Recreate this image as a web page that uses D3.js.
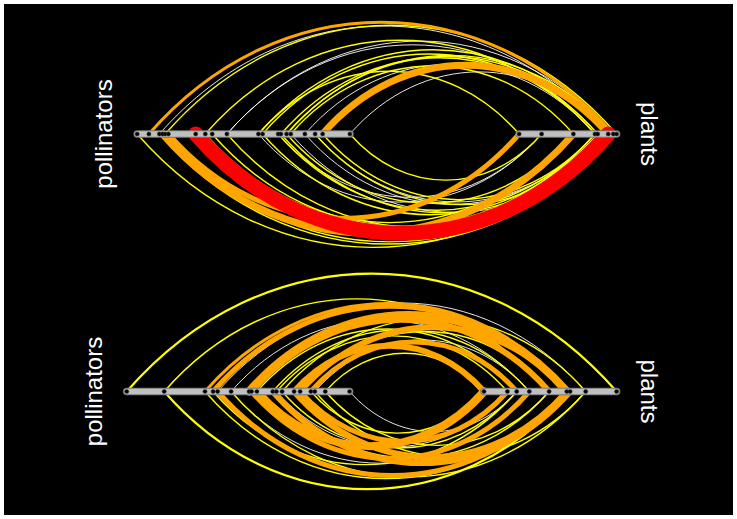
<!DOCTYPE html>
<html>
<head>
<meta charset="utf-8">
<script src="https://cdn.jsdelivr.net/npm/d3@7"></script>
<style>
  html, body { margin: 0; padding: 0; background: #ffffff; }
  svg { display: block; }
</style>
</head>
<body>
<script>
// ---- Network 1 (upper hive) ----
// node radii: distance of each node from the hive centre along its axis
const pollinatorsA = [98.6, 94.7, 91.2, 90.2, 89.3, 88.2, 79.1, 75.9, 73.6, 68.7,
                      58.2, 56.8, 51.6, 50.7, 48.8, 47.4, 42.7, 39.3, 36.8, 27.7];
const plantsA = [28.7, 36.2, 46.8, 54.0, 54.9, 58.4, 60.1, 61.2];
// interactions: [pollinator index, plant index, weight, side (-1 above, 1 below)]
const edgesA = [
  [1, 6, 3, -1], [4, 7, 2, -1], [2, 5, 1, -1], [7, 3, 2, -1], [9, 4, 1, -1],
  [9, 6, 1, -1], [10, 0, 2, -1], [11, 3, 2, -1], [10, 5, 2, -1], [13, 4, 2, -1],
  [14, 5, 2, -1], [15, 2, 2, -1], [16, 3, 1, -1], [18, 5, 7, -1], [19, 5, 1, -1],
  [14, 6, 2, -1],
  [0, 5, 2, 1], [2, 7, 2, 1], [3, 2, 7, 1], [5, 0, 5, 1], [4, 6, 2, 1],
  [6, 5, 15, 1], [8, 3, 2, 1], [10, 1, 1, 1], [11, 4, 2, 1], [12, 3, 2, 1],
  [13, 5, 2, 1], [14, 2, 2, 1], [15, 7, 1, 1], [16, 4, 1, 1], [17, 5, 2, 1],
  [18, 3, 2, 1], [19, 1, 2, 1], [9, 7, 2, 1], [7, 2, 2, 1], [12, 1, 1, 1],
  [17, 4, 1, 1]
];

// ---- Network 2 (lower hive) ----
const pollinatorsB = [102.1, 89.6, 76.0, 73.3, 71.8, 67.3, 61.3, 60.5, 58.7, 53.4,
                      52.2, 50.3, 46.3, 44.3, 40.7, 39.4, 35.9, 27.8];
const plantsB = [17.0, 24.8, 27.9, 32.1, 38.7, 44.6, 45.7, 50.9, 61.2];
const edgesB = [
  [0, 8, 2.5, -1], [1, 4, 2, -1], [2, 6, 3, -1], [3, 5, 5, -1], [4, 7, 1, -1],
  [5, 3, 1, -1], [6, 5, 8, -1], [7, 4, 6, -1], [8, 2, 2, -1], [9, 3, 2, -1],
  [10, 1, 2, -1], [11, 7, 2, -1], [12, 0, 6, -1], [13, 5, 6, -1], [14, 2, 5, -1],
  [15, 3, 1, -1], [16, 0, 2, -1], [13, 4, 2, -1],
  [1, 6, 2.5, 1], [2, 5, 2, 1], [4, 5, 5, 1], [3, 2, 2, 1], [5, 3, 1, 1],
  [8, 0, 8, 1], [9, 6, 6, 1], [9, 4, 2, 1], [10, 1, 1, 1], [11, 2, 2, 1],
  [12, 5, 6, 1], [13, 1, 5, 1], [14, 0, 2, 1], [15, 7, 2, 1], [16, 4, 2, 1],
  [17, 2, 1, 1], [7, 3, 5, 1], [5, 7, 2, 1]
];

const axisLabels = ["pollinators", "plants"];

// ---- layout ----
const W = 737, H = 519;
const centreX = 433;
const panels = [
  { pol: pollinatorsA, pla: plantsA, edges: edgesA, cy: 134 },
  { pol: pollinatorsB, pla: plantsB, edges: edgesB, cy: 391.5 }
];

const radius = d3.scaleLinear().domain([0, 100]).range([0, 300]);
const edgeColour = d3.scaleThreshold().domain([2, 3, 10])
  .range(["#FFFFFF", "#FFFF00", "#FFA500", "#FF0000"]);
const edgeWidth = d3.scaleLinear().domain([1, 2, 3, 15]).range([0.9, 1.4, 3, 15]);

const svg = d3.select("body").append("svg")
  .attr("width", W).attr("height", H);

svg.append("rect").attr("x", 4).attr("y", 4)
  .attr("width", W - 8).attr("height", H - 8).attr("fill", "#000000");

// edge curve between a pollinator and a plant, bowing to one side of the axes
function edgePath(x1, x2, cy, side) {
  const c = x2 - x1;
  const h = 0.321 * c * side;
  const a = 0.28 * c;
  const p = d3.path();
  p.moveTo(x1, cy);
  p.bezierCurveTo(x1 + a, cy + h, x2 - a, cy + h, x2, cy);
  return p.toString();
}

panels.forEach(panel => {
  const g = svg.append("g");
  const polX = r => centreX - radius(r);
  const plaX = r => centreX + radius(r);

  const edges = panel.edges.slice().sort((a, b) => a[2] - b[2]);
  g.append("g").selectAll("path").data(edges).join("path")
    .attr("d", e => edgePath(polX(panel.pol[e[0]]), plaX(panel.pla[e[1]]), panel.cy, e[3]))
    .attr("fill", "none")
    .attr("stroke", e => edgeColour(e[2]))
    .attr("stroke-width", e => edgeWidth(e[2]))
    .attr("stroke-linecap", "round");

  // axes
  const axes = [
    [polX(d3.max(panel.pol)), polX(d3.min(panel.pol))],
    [plaX(d3.min(panel.pla)), plaX(d3.max(panel.pla))]
  ];
  g.append("g").selectAll("line").data(axes).join("line")
    .attr("x1", d => d[0]).attr("x2", d => d[1])
    .attr("y1", panel.cy).attr("y2", panel.cy)
    .attr("stroke", "#7a7a7a").attr("stroke-width", 7.5)
    .attr("stroke-linecap", "round");
  g.append("g").selectAll("line").data(axes).join("line")
    .attr("x1", d => d[0]).attr("x2", d => d[1])
    .attr("y1", panel.cy).attr("y2", panel.cy)
    .attr("stroke", "#c0c0c0").attr("stroke-width", 5.5)
    .attr("stroke-linecap", "round");

  // nodes
  const nodes = panel.pol.map(polX).concat(panel.pla.map(plaX));
  g.append("g").selectAll("circle").data(nodes).join("circle")
    .attr("cx", d => d).attr("cy", panel.cy).attr("r", 2.1)
    .attr("fill", "#000000").attr("stroke", "#3a3a3a").attr("stroke-width", 0.5);

  // axis labels
  g.append("text")
    .attr("transform", `translate(${polX(d3.max(panel.pol)) - 25},${panel.cy}) rotate(-90)`)
    .attr("text-anchor", "middle")
    .attr("font-family", "Liberation Sans, Arial, sans-serif")
    .attr("font-size", 24).attr("fill", "#ffffff")
    .text(axisLabels[0]);
  g.append("text")
    .attr("transform", `translate(${plaX(d3.max(panel.pla)) + 24},${panel.cy}) rotate(90)`)
    .attr("text-anchor", "middle")
    .attr("font-family", "Liberation Sans, Arial, sans-serif")
    .attr("font-size", 24).attr("fill", "#ffffff")
    .text(axisLabels[1]);
});
</script>
</body>
</html>
